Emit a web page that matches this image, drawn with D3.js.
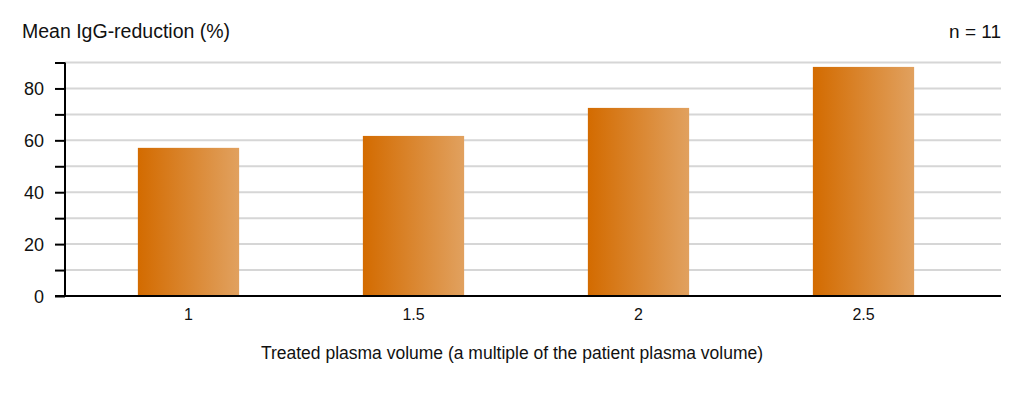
<!DOCTYPE html>
<html><head><meta charset="utf-8">
<script src="https://cdn.jsdelivr.net/npm/d3@7"></script>
<style>body{margin:0;background:#fff;font-family:"Liberation Sans",Arial,Helvetica,sans-serif;}</style>
</head><body><svg id="c" width="1024" height="397"></svg>
<script>
const categories = ["1", "1.5", "2", "2.5"];
const values = [57.1, 61.7, 72.5, 88.3];
const yTicks = [0, 10, 20, 30, 40, 50, 60, 70, 80, 90];
const yLabels = [0, 20, 40, 60, 80];
const yTitle = "Mean IgG-reduction (%)";
const nLabel = "n = 11";
const xTitle = "Treated plasma volume (a multiple of the patient plasma volume)";

const svg = d3.select("#c");
const x0 = 65, x1 = 1001, yBase = 296;
const y = d3.scaleLinear().domain([0, 90]).range([yBase, 62.5]);
const x = d3.scaleBand().domain(categories).range([76, 976]).paddingInner(0.55).paddingOuter(0.275);

const defs = svg.append("defs");
const g = defs.append("linearGradient").attr("id", "bg").attr("x1", "0").attr("x2", "1").attr("y1", "0").attr("y2", "0");
g.append("stop").attr("offset", "0").attr("stop-color", "#d36b00");
g.append("stop").attr("offset", "1").attr("stop-color", "#e1a15f");

// gridlines
svg.append("g").selectAll("line").data(yTicks.filter(d => d > 0)).join("line")
  .attr("x1", x0).attr("x2", x1).attr("y1", d => y(d)).attr("y2", d => y(d))
  .attr("stroke", "#d6d6d6").attr("stroke-width", 2);

// bars
svg.append("g").selectAll("rect").data(values).join("rect")
  .attr("x", (d, i) => x(categories[i])).attr("width", x.bandwidth())
  .attr("y", d => y(d)).attr("height", d => yBase - y(d))
  .attr("fill", "url(#bg)");

// y axis
const yAxis = d3.axisLeft(y).tickValues(yTicks).tickSize(10)
  .tickFormat(d => yLabels.includes(d) ? d : "");
const ya = svg.append("g").attr("transform", `translate(${x0},0)`).call(yAxis);
ya.attr("font-size", null).attr("font-family", null);
ya.select(".domain").remove();
ya.selectAll(".tick line").attr("stroke", "#000").attr("stroke-width", 2);
ya.selectAll(".tick text").style("font-size", "18px").attr("fill", "#111").attr("x", -21).attr("dy", "0.36em")
  .style("font-family", "Liberation Sans, Arial, sans-serif");
ya.append("line").attr("x1", 0).attr("x2", 0).attr("y1", y(90)).attr("y2", yBase + 1)
  .attr("stroke", "#000").attr("stroke-width", 2);

// x axis
const xAxis = d3.axisBottom(x).tickSize(0).tickPadding(13);
const xa = svg.append("g").attr("transform", `translate(0,${yBase})`).call(xAxis);
xa.attr("font-size", null).attr("font-family", null);
xa.select(".domain").remove();
xa.selectAll(".tick text").style("font-size", "16px").attr("fill", "#111")
  .style("font-family", "Liberation Sans, Arial, sans-serif");
svg.append("line").attr("x1", 55).attr("x2", x1).attr("y1", yBase).attr("y2", yBase)
  .attr("stroke", "#000").attr("stroke-width", 2);

// texts
svg.append("text").attr("x", 22).attr("y", 38).style("font-size", "19.5px").attr("fill", "#111").text(yTitle);
svg.append("text").attr("x", 1001).attr("y", 38).attr("text-anchor", "end").style("font-size", "19px").attr("fill", "#111").text(nLabel);
svg.append("text").attr("x", 512).attr("y", 359).attr("text-anchor", "middle").style("font-size", "17.5px").attr("fill", "#111").text(xTitle);
</script></body></html>
